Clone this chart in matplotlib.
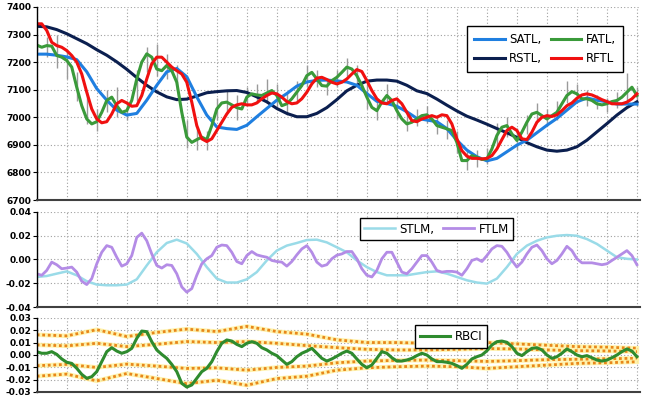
import numpy as np
import matplotlib.pyplot as plt

plt.rcParams['font.family'] = ['DejaVu Sans']

# sample index, one step = one 10 px column of the original picture
idx = np.arange(61)
idx_half = np.arange(121) / 2

satl = [7229, 7229, 7225, 7219, 7209, 7165, 7104, 7062, 7026, 7008,
        7014, 7062, 7116, 7165, 7177, 7147, 7074, 7008, 6965, 6959,
        6956, 6971, 7002, 7032, 7062, 7086, 7113, 7128, 7134, 7135,
        7132, 7128, 7116, 7086, 7058, 7050, 7040, 7020, 6996, 6990,
        6984, 6959, 6917, 6881, 6857, 6842, 6851, 6875, 6899, 6917,
        6944, 6971, 6996, 7026, 7056, 7070, 7062, 7056, 7048, 7048, 7048]
rstl = [7330, 7328, 7318, 7303, 7285, 7267, 7245, 7225, 7201, 7174,
        7144, 7116, 7092, 7074, 7064, 7066, 7077, 7089, 7093, 7096,
        7097, 7090, 7074, 7056, 7032, 7014, 7002, 7002, 7014, 7035,
        7064, 7096, 7116, 7131, 7135, 7135, 7131, 7116, 7096, 7086,
        7066, 7044, 7023, 7004, 6990, 6975, 6959, 6944, 6927, 6908,
        6893, 6881, 6877, 6881, 6893, 6917, 6947, 6977, 7008, 7035, 7056]
# fast lines read every half step
fatl = [7262, 7254, 7260, 7258, 7224, 7218, 7206, 7182, 7109, 7042,
        6994, 6976, 6984, 7018, 7061, 7073, 7042, 7018, 7024, 7061,
        7139, 7200, 7230, 7218, 7175, 7169, 7188, 7169, 7127, 7018,
        6928, 6909, 6919, 6928, 6919, 6970, 7030, 7052, 7055, 7045,
        7035, 7030, 7073, 7085, 7081, 7079, 7088, 7097, 7079, 7042,
        7049, 7067, 7091, 7115, 7151, 7163, 7139, 7115, 7113, 7133,
        7145, 7163, 7182, 7175, 7151, 7115, 7073, 7036, 7024, 7055,
        7079, 7061, 7024, 6994, 6976, 6982, 6994, 7006, 7009, 6994,
        6970, 6964, 6958, 6952, 6909, 6843, 6843, 6861, 6855, 6847,
        6849, 6885, 6934, 6964, 6970, 6940, 6916, 6946, 6982, 7012,
        7018, 7006, 6994, 7006, 7018, 7049, 7079, 7093, 7085, 7067,
        7067, 7061, 7049, 7045, 7049, 7057, 7061, 7073, 7091, 7109,
        7079]
rftl = [7339, 7339, 7315, 7272, 7260, 7254, 7242, 7224, 7200, 7157,
        7091, 7030, 6994, 6980, 6984, 7012, 7049, 7061, 7052, 7040,
        7042, 7079, 7139, 7194, 7218, 7218, 7200, 7182, 7169, 7157,
        7127, 7055, 6970, 6922, 6912, 6922, 6952, 6982, 7012, 7036,
        7045, 7049, 7045, 7045, 7052, 7067, 7079, 7088, 7085, 7073,
        7057, 7049, 7052, 7067, 7091, 7121, 7142, 7145, 7137, 7127,
        7121, 7127, 7139, 7157, 7173, 7166, 7133, 7097, 7067, 7052,
        7049, 7061, 7067, 7049, 7018, 6988, 6984, 6994, 7000, 7006,
        7000, 7009, 7006, 6976, 6922, 6879, 6859, 6851, 6851, 6849,
        6851, 6861, 6885, 6919, 6952, 6964, 6952, 6922, 6919, 6946,
        6982, 7000, 7006, 7003, 7009, 7024, 7042, 7052, 7069, 7081,
        7085, 7081, 7073, 7064, 7057, 7049, 7049, 7049, 7055, 7067,
        7085]
bar_high = [7300, 7290, 7300, 7240, 7165, 7090, 7030, 7100, 7110, 7060,
            7170, 7255, 7265, 7230, 7190, 6990, 6960, 6950, 7070, 7100,
            7080, 7110, 7120, 7140, 7120, 7090, 7130, 7190, 7170, 7140,
            7170, 7215, 7190, 7120, 7060, 7120, 7070, 7020, 7030, 7040,
            7010, 6990, 6950, 6880, 6880, 6890, 6980, 7000, 6960, 7010,
            7050, 7030, 7060, 7130, 7120, 7100, 7080, 7070, 7090, 7160, 7110]
bar_low = [7240, 7220, 7180, 7140, 7060, 6975, 6950, 7020, 7000, 6990,
           7060, 7165, 7150, 7140, 7100, 6890, 6880, 6880, 6990, 7020,
           6990, 7040, 7050, 7050, 7040, 7010, 7060, 7110, 7110, 7080,
           7110, 7150, 7120, 7030, 6990, 7050, 6995, 6950, 6970, 6980,
           6940, 6920, 6870, 6810, 6820, 6830, 6890, 6930, 6880, 6940,
           6990, 6970, 6990, 7050, 7050, 7040, 7030, 7020, 7035, 7060, 7040]

stlm = [-0.0147, -0.0139, -0.0119, -0.010, -0.0133, -0.0183, -0.0211, -0.0217, -0.0217, -0.0211,
        -0.0167, -0.005, 0.0061, 0.0139, 0.0167, 0.0135, 0.0047, -0.0064, -0.0161, -0.0194,
        -0.0194, -0.0167, -0.0106, -0.0008, 0.0075, 0.0117, 0.0139, 0.0164, 0.0167, 0.0144,
        0.0103, 0.0061, -0.0008, -0.0064, -0.0106, -0.0133, -0.0133, -0.0133, -0.0119, -0.0106,
        -0.010, -0.0119, -0.0147, -0.0175, -0.0194, -0.0203, -0.0161, -0.0064, 0.0047, 0.0117,
        0.0158, 0.0186, 0.020, 0.0206, 0.020, 0.0172, 0.0131, 0.0075, 0.0019, 0.0006, 0.0]
# FTLM read every half step
ftlm = [-0.012, -0.0133, -0.0092, -0.0022, -0.0044, -0.0078, -0.0072, -0.0064, -0.0106, -0.0183,
        -0.0211, -0.0161, -0.0036, 0.0061, 0.0117, 0.0103, 0.0019, -0.0056, -0.0036, 0.0033,
        0.0186, 0.0222, 0.0158, 0.0047, -0.005, -0.0072, -0.0044, -0.005, -0.012, -0.0231,
        -0.0275, -0.0245, -0.0133, -0.0036, 0.0006, 0.0033, 0.0103, 0.0122, 0.0117, 0.0061,
        -0.0017, -0.0036, 0.0033, 0.0067, 0.0039, 0.0028, 0.0019, -0.0008, -0.0017, -0.0022,
        -0.0056, -0.0017, 0.0039, 0.0089, 0.0117, 0.0061, -0.0022, -0.0056, -0.0044, 0.0006,
        0.0036, 0.0047, 0.0067, 0.0067, 0.0006, -0.0078, -0.0133, -0.0147, -0.0092, 0.0006,
        0.0061, 0.0061, -0.0022, -0.0106, -0.012, -0.0078, -0.0022, 0.0033, 0.0033, -0.0022,
        -0.0092, -0.0106, -0.010, -0.010, -0.0106, -0.0133, -0.0078, -0.0008, 0.0006, -0.0017,
        0.0033, 0.0089, 0.0117, 0.0111, 0.0061, -0.0008, -0.0064, -0.0022, 0.0047, 0.0103,
        0.0122, 0.0075, 0.0006, -0.0036, -0.0008, 0.0047, 0.0111, 0.0075, 0.0006, -0.0028,
        -0.0028, -0.0028, -0.0036, -0.0044, -0.0036, -0.0008, 0.0019, 0.0047, 0.0075, 0.0033,
        -0.0044]

# RBCI read every half step
rbci = [0.0027, 0.0014, 0.0014, 0.0027, 0.0005, -0.0032, -0.0059, -0.0068, -0.0108, -0.0157,
        -0.0189, -0.0176, -0.0135, -0.0054, 0.0027, 0.0059, 0.0032, 0.0014, 0.0027, 0.0054,
        0.0135, 0.0194, 0.0189, 0.0108, 0.0041, 0.0005, -0.0027, -0.0076, -0.0135, -0.023,
        -0.026, -0.0243, -0.0189, -0.0135, -0.0108, -0.0054, 0.0027, 0.0095, 0.0122, 0.0113,
        0.0086, 0.0068, 0.0095, 0.0108, 0.0095, 0.0059, 0.0041, 0.0014, -0.0005, -0.0041,
        -0.0076, -0.0054, -0.0014, 0.0014, 0.0032, 0.0054, 0.0014, -0.0027, -0.0049, -0.0032,
        -0.001, 0.0014, 0.0032, 0.0014, -0.0032, -0.0076, -0.0103, -0.0081, -0.0027, 0.0027,
        0.0014, -0.0022, -0.0049, -0.0049, -0.0041, -0.0027, -0.0005, 0.0014, 0.0, -0.0032,
        -0.0054, -0.0054, -0.0059, -0.0068, -0.0086, -0.0108, -0.0076, -0.0032, -0.0014, 0.0,
        0.0034, 0.0081, 0.0108, 0.0113, 0.0103, 0.0068, 0.0014, -0.0005, 0.0027, 0.0054,
        0.0059, 0.0041, 0.0, -0.0027, -0.0014, 0.0014, 0.0049, 0.0027, 0.0, -0.0014,
        -0.0005, -0.0022, -0.0041, -0.0049, -0.0041, -0.0022, 0.0, 0.0027, 0.0049, 0.0032,
        -0.0014]

# RBCI bands, one value every third sample
band_idx = np.arange(0, 61, 3)
band_outer_up = [0.0164, 0.0155, 0.0205, 0.015, 0.0183, 0.021, 0.019, 0.0232, 0.019, 0.0169, 0.0123,
                 0.0101, 0.0101, 0.0095, 0.009, 0.0101, 0.009, 0.0079, 0.0068, 0.0063, 0.0055]
band_inner_up = [0.0082, 0.0074, 0.0095, 0.0068, 0.0087, 0.0109, 0.0101, 0.0109, 0.0095, 0.0076, 0.006,
                 0.0046, 0.0041, 0.0041, 0.0046, 0.0052, 0.0049, 0.0041, 0.0035, 0.0033, 0.0027]
band_inner_dn = [-0.0087, -0.0076, -0.0101, -0.0074, -0.009, -0.0109, -0.0104, -0.0123, -0.0101, -0.009, -0.0063,
                 -0.0049, -0.0044, -0.0041, -0.0046, -0.0052, -0.0046, -0.0038, -0.0035, -0.003, -0.0027]
band_outer_dn = [-0.0172, -0.0155, -0.021, -0.015, -0.0191, -0.0232, -0.0205, -0.0245, -0.0191, -0.0172, -0.0123,
                 -0.0104, -0.0095, -0.009, -0.0095, -0.0109, -0.0095, -0.0082, -0.0068, -0.0063, -0.0055]

fig = plt.figure(figsize=(6.5, 3.97), dpi=100)
L, W = 0.0565, 0.928
ax1 = fig.add_axes([L, 0.4962, W, 0.4862])
ax2 = fig.add_axes([L, 0.2267, W, 0.2393])
ax3 = fig.add_axes([L, 0.0126, W, 0.1864])


def style(ax, ticks, labels):
    ax.set_xlim(0, 60.3)
    ax.set_xticks(np.arange(0, 61, 3))
    ax.set_xticklabels([])
    ax.set_yticks(ticks)
    ax.set_yticklabels(labels, fontsize=6.5, fontweight='bold')
    ax.set_ylim(ticks[0], ticks[-1])
    ax.tick_params(axis='x', length=0)
    ax.tick_params(axis='y', length=3, width=0.8, pad=1)
    ax.grid(True, color='#a0a0a0', linestyle=(0, (1, 2)), linewidth=0.8)
    ax.spines['top'].set_visible(False)
    ax.spines['right'].set_visible(False)
    ax.spines['left'].set_linewidth(1.0)
    ax.spines['bottom'].set_color('#404040')
    ax.spines['bottom'].set_linewidth(1.5)
    ax.set_axisbelow(True)


def boxed_legend(leg):
    leg.get_frame().set_linewidth(1.0)
    leg.get_frame().set_edgecolor('black')


# price panel
ax1.vlines(idx, bar_low, bar_high, color='#9a9a9a', linewidth=1.0)
ax1.plot(idx, rstl, color='#0b1f4f', linewidth=2.2, label='RSTL,')
ax1.plot(idx, satl, color='#1f7fe0', linewidth=2.2, label='SATL,')
ax1.plot(idx_half, fatl, color='#3a9a3a', linewidth=2.2, label='FATL,')
ax1.plot(idx_half, rftl, color='#f01010', linewidth=2.2, label='RFTL')
h, lab = ax1.get_legend_handles_labels()
order = [1, 0, 2, 3]
leg = ax1.legend([h[i] for i in order], [lab[i] for i in order], ncol=2,
                 loc='upper right', bbox_to_anchor=(0.982, 0.93), fancybox=False,
                 fontsize=8.5, handlelength=2.6, columnspacing=0.7,
                 handletextpad=0.4, borderpad=0.6, framealpha=1)
boxed_legend(leg)
style(ax1, [6700, 6800, 6900, 7000, 7100, 7200, 7300, 7400],
      ['6700', '6800', '6900', '7000', '7100', '7200', '7300', '7400'])

# momentum panel
ax2.plot(idx, stlm, color='#9adbe8', linewidth=1.8, label='STLM,')
ax2.plot(idx_half, ftlm, color='#b48ce6', linewidth=2.0, label='FTLM')
leg = ax2.legend(ncol=2, loc='upper right', bbox_to_anchor=(0.8, 1.0), fancybox=False,
                 fontsize=8.5, handlelength=2.6, columnspacing=0.7,
                 handletextpad=0.4, borderpad=0.4, framealpha=1)
boxed_legend(leg)
style(ax2, [-0.04, -0.02, 0.0, 0.02, 0.04], ['-0.04', '-0.02', '0.00', '0.02', '0.04'])

# RBCI panel
for band in (band_outer_up, band_inner_up, band_inner_dn, band_outer_dn):
    ax3.plot(band_idx, band, color='#fff09a', linewidth=3.2, alpha=0.8)
    ax3.plot(band_idx, band, color='#e8871a', linewidth=2.0, linestyle=(0, (1, 1.0)))
ax3.plot(idx_half, rbci, color='#2e8b2e', linewidth=2.2, label='RBCI')
leg = ax3.legend(loc='upper right', bbox_to_anchor=(0.757, 0.98), fancybox=False,
                 fontsize=8.5, handlelength=2.6, handletextpad=0.4,
                 borderpad=0.4, framealpha=1)
boxed_legend(leg)
style(ax3, [-0.03, -0.02, -0.01, 0.0, 0.01, 0.02, 0.03],
      ['-0.03', '-0.02', '-0.01', '0.00', '0.01', '0.02', '0.03'])

fig.savefig('out.png', dpi=100)
